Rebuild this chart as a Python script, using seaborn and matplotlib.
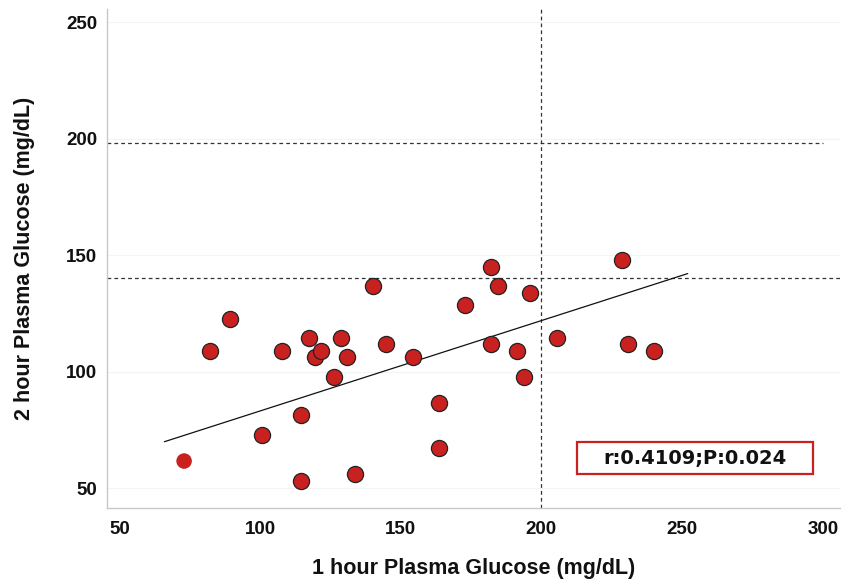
import numpy as np
import pandas as pd
import matplotlib
matplotlib.use("Agg")
import matplotlib.pyplot as plt
from matplotlib.patches import Rectangle
import seaborn as sns

# 1 hour vs 2 hour plasma glucose (mg/dL)
glucose_1h = [82.1, 89.2, 100.8, 107.9, 114.7, 114.7, 117.3, 119.4, 121.8, 126.4,
              128.8, 131.0, 133.6, 140.2, 144.8, 154.2, 163.6, 163.6, 172.9, 182.1,
              182.1, 184.5, 191.4, 193.8, 196.0, 205.4, 228.6, 230.8, 240.1]
glucose_2h = [108.9, 122.8, 72.7, 108.9, 81.2, 53.1, 114.5, 106.1, 108.9, 97.8,
              114.5, 106.1, 56.1, 136.7, 111.8, 106.1, 86.6, 67.2, 128.5, 111.8,
              145.0, 136.7, 108.9, 97.8, 133.6, 114.5, 147.9, 111.8, 108.9]
# lone point drawn without outline
extra_1h = [73.0]
extra_2h = [61.6]

# fitted line as drawn in the figure
fit_1h = [66, 252]
fit_2h = [69.9, 142.1]

cut_1h = 200
cut_2h = [198, 140]
stats_text = "r:0.4109;P:0.024"

xticks = [50, 100, 150, 200, 250, 300]
yticks = [50, 100, 150, 200, 250]

df = pd.DataFrame({"x": glucose_1h, "y": glucose_2h})
df_extra = pd.DataFrame({"x": extra_1h, "y": extra_2h})
df_fit = pd.DataFrame({"x": fit_1h, "y": fit_2h})

sns.set_style("white")
plt.rcParams['font.family'] = ['Liberation Sans', 'DejaVu Sans']
plt.rcParams['text.color'] = "#111111"
plt.rcParams['axes.labelcolor'] = "#111111"
plt.rcParams['xtick.labelcolor'] = "#111111"
plt.rcParams['ytick.labelcolor'] = "#111111"

fig = plt.figure(figsize=(8.44, 5.8), dpi=100)
ax = fig.add_axes([0.1268, 0.124, 0.868, 0.86])

red = "#C8211F"
sns.lineplot(data=df_fit, x="x", y="y", color="#111111", lw=0.9, ax=ax, zorder=3)
sns.scatterplot(data=df, x="x", y="y", s=135, color=red, edgecolor="#222222",
                linewidth=0.9, ax=ax, zorder=4)
sns.scatterplot(data=df_extra, x="x", y="y", s=125, color=red, edgecolor="none",
                linewidth=0, ax=ax, zorder=4)

# reference lines
dash = (0, (3, 2.5))
ax.axvline(cut_1h, color="#333333", ls=dash, lw=0.9, zorder=2)
ax.plot([45.6, 300], [cut_2h[0]] * 2, color="#333333", ls=dash, lw=0.9, zorder=2)
ax.axhline(cut_2h[1], color="#333333", ls=dash, lw=0.9, zorder=2)

ax.set_xlim(45.6, 306)
ax.set_ylim(41.4, 255.6)
ax.set_xticks(xticks)
ax.set_yticks(yticks)
for t in yticks:
    ax.axhline(t, color="#f4f4f4", lw=0.8, zorder=0)

ax.tick_params(axis="both", which="major", length=5, width=0.8, color="#c8c8c8",
               labelsize=13.5, direction="out", pad=2)
ax.tick_params(axis="x", pad=4)
for lab in ax.get_xticklabels() + ax.get_yticklabels():
    lab.set_fontweight("bold")

for side in ["top", "right"]:
    ax.spines[side].set_visible(False)
for side in ["left", "bottom"]:
    ax.spines[side].set_color("#c8c8c8")
    ax.spines[side].set_linewidth(1.0)

ax.set_xlabel("1 hour Plasma Glucose (mg/dL)", fontsize=15.5, fontweight="bold")
ax.set_ylabel("2 hour Plasma Glucose (mg/dL)", fontsize=15.5, fontweight="bold")
ax.xaxis.set_label_coords(0.5, -0.10)
ax.yaxis.set_label_coords(-0.098, 0.5)

# stats box
ax.add_patch(Rectangle((0.641, 0.068), 0.323, 0.065, transform=ax.transAxes,
                       fc="white", ec=red, lw=1.6, zorder=6))
ax.text(0.802, 0.1, stats_text, transform=ax.transAxes, ha="center", va="center",
        fontsize=14, fontweight="bold", family=["DejaVu Sans"], zorder=7)

fig.savefig("out.png", dpi=100)
